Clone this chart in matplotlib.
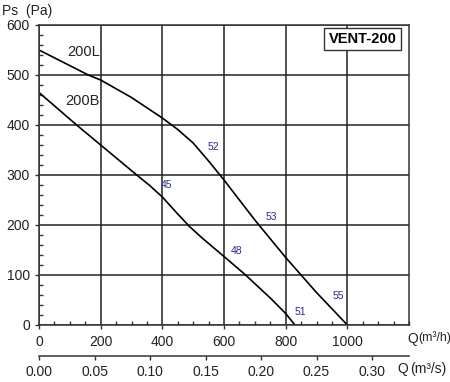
import matplotlib
matplotlib.use("Agg")
import matplotlib.pyplot as plt
from matplotlib.ticker import MultipleLocator

plt.rcParams['font.family'] = ['Liberation Sans', 'DejaVu Sans']

# Data (Q in m3/h, Ps in Pa)
q_200L = [0, 160, 200, 300, 400, 450, 500, 550, 600, 700, 800, 900, 1000]
ps_200L = [550, 500, 490, 455, 414, 391, 364, 328, 290, 210, 135, 65, 0]
q_200B = [0, 122, 200, 317, 359, 400, 450, 488, 531, 600, 670, 750, 800, 830]
ps_200B = [465, 400, 360, 300, 279, 256, 222, 197, 173, 137, 100, 54, 23, 0]

series_names = ["200L", "200B"]
series_label_pos = [(145, 546), (140, 448)]

# Noise level annotations (dB(A))
noise_vals = ["45", "52", "53", "48", "51", "55"]
noise_pos = [(415, 280), (565, 356), (753, 216), (640, 148), (847, 26), (970, 58)]

x_ticks = [0, 200, 400, 600, 800, 1000]
y_ticks = [0, 100, 200, 300, 400, 500, 600]
sec_ticks = [0.00, 0.05, 0.10, 0.15, 0.20, 0.25, 0.30]

fig = plt.figure(figsize=(4.5, 3.82), dpi=100)
ax = fig.add_axes([39/450, 1-325/382, 370/450, 300/382])
ax.set_xlim(0, 1200)
ax.set_ylim(0, 600)

ax.plot(q_200L, ps_200L, color='black', lw=1.2)
ax.plot(q_200B, ps_200B, color='black', lw=1.2)

for name, (x, y) in zip(series_names, series_label_pos):
    ax.text(x, y, name, fontsize=10.5, ha='center', va='center', color='#222222')
for v, (x, y) in zip(noise_vals, noise_pos):
    ax.text(x, y, v, fontsize=7.5, ha='center', va='center', color='#2a2a96')

ax.set_xticks(x_ticks)
ax.set_yticks(y_ticks)
ax.xaxis.set_minor_locator(MultipleLocator(50))
ax.yaxis.set_minor_locator(MultipleLocator(20))
ax.tick_params(axis='both', which='major', direction='out', length=3, width=1,
               labelsize=10, colors='#333333', labelcolor='#222222')
ax.tick_params(axis='both', which='minor', direction='in', length=3, width=1, colors='#333333')
ax.tick_params(axis='x', pad=4)
ax.grid(True, which='major', color='#222222', lw=1.1)
for sp in ax.spines.values():
    sp.set_color('#333333')
    sp.set_linewidth(1.1)

# Axis titles
fig.text(2/450, 1-11/382, "Ps  (Pa)", fontsize=10, ha='left', va='center', color='#222222')
fig.text(407/450, 1-339/382, "Q", fontsize=10, ha='left', va='center', color='#222222')
fig.text(418/450, 1-338/382, "(m³/h)", fontsize=8.8, ha='left', va='center', color='#222222')
fig.text(397/450, 1-369/382, "Q", fontsize=10, ha='left', va='center', color='#222222')
fig.text(410/450, 1-369/382, "(m³/s)", fontsize=10, ha='left', va='center', color='#222222')

ax.text(1049, 572, "VENT-200", fontsize=10.5, fontweight='bold', ha='center', va='center',
        bbox=dict(boxstyle='square,pad=0.3', fc='white', ec='#333333', lw=1.0))

sec = ax.secondary_xaxis(-0.103, functions=(lambda q: q / 3600.0, lambda s: s * 3600.0))
sec.set_xticks(sec_ticks)
sec.set_xticklabels([f"{t:.2f}" for t in sec_ticks])
sec.tick_params(direction='out', length=3, width=1, labelsize=10, colors='#333333', labelcolor='#222222')
sec.spines['bottom'].set_color('#333333')
sec.spines['bottom'].set_linewidth(1.1)

fig.savefig("out.png", dpi=100)
